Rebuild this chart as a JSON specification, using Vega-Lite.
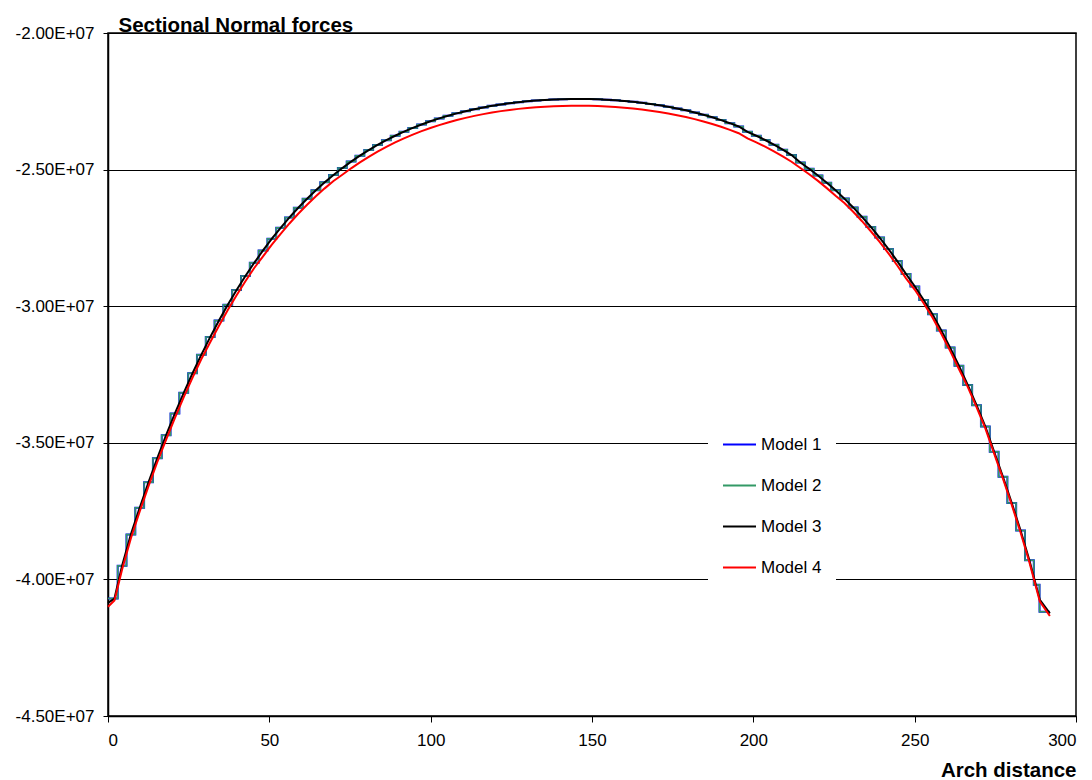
{
"$schema":"https://vega.github.io/schema/vega-lite/v6.json",
"width":968,"height":683,
"autosize":{"type":"none"},
"padding":{"left":108,"top":33,"right":16,"bottom":64},
"background":"white",
"config":{
"font":"Liberation Sans",
"view":{"stroke":"black","strokeWidth":1.5},
"axis":{"labelFont":"Liberation Sans","titleFont":"Liberation Sans","labelColor":"black","titleColor":"black","domainColor":"black","tickColor":"black","labelFontSize":17,"titleFontSize":20.5,"titleFontWeight":"bold"},
"legend":{"orient":"none","legendX":600,"legendY":380,"fillColor":"white","padding":14,"symbolType":"stroke","symbolSize":1089,"symbolStrokeWidth":2,"labelFontSize":17,"labelFont":"Liberation Sans","labelColor":"black","rowPadding":15,"labelOffset":4}
},
"datasets":{
"steps":[
{"x":0,"y":-4.07e7},{"x":3,"y":-3.95e7},{"x":5.73,"y":-3.8353e7},{"x":8.46,"y":-3.7376e7},{"x":11.19,"y":-3.6447e7},{"x":13.92,"y":-3.5563e7},{"x":16.65,"y":-3.4723e7},{"x":19.38,"y":-3.3926e7},{"x":22.11,"y":-3.317e7},{"x":24.84,"y":-3.2453e7},{"x":27.57,"y":-3.1774e7},{"x":30.3,"y":-3.1131e7},{"x":33.03,"y":-3.0523e7},{"x":35.76,"y":-2.9948e7},{"x":38.49,"y":-2.9406e7},{"x":41.22,"y":-2.8894e7},{"x":43.95,"y":-2.8412e7},{"x":46.68,"y":-2.7958e7},{"x":49.41,"y":-2.753e7},{"x":52.14,"y":-2.7129e7},{"x":54.87,"y":-2.6752e7},{"x":57.6,"y":-2.6398e7},{"x":60.33,"y":-2.6067e7},{"x":63.06,"y":-2.5757e7},{"x":65.79,"y":-2.5467e7},{"x":68.52,"y":-2.5196e7},{"x":71.25,"y":-2.4944e7},{"x":73.98,"y":-2.4708e7},{"x":76.71,"y":-2.449e7},{"x":79.44,"y":-2.4286e7},{"x":82.17,"y":-2.4098e7},{"x":84.9,"y":-2.3923e7},{"x":87.63,"y":-2.3761e7},{"x":90.36,"y":-2.3612e7},{"x":93.09,"y":-2.3474e7},{"x":95.82,"y":-2.3348e7},{"x":98.55,"y":-2.3232e7},{"x":101.28,"y":-2.3126e7},{"x":104.01,"y":-2.3029e7},{"x":106.74,"y":-2.2941e7},{"x":109.47,"y":-2.2861e7},{"x":112.2,"y":-2.2789e7},{"x":114.93,"y":-2.2724e7},{"x":117.66,"y":-2.2666e7},{"x":120.39,"y":-2.2615e7},{"x":123.12,"y":-2.2571e7},{"x":125.85,"y":-2.2532e7},{"x":128.58,"y":-2.25e7},{"x":131.31,"y":-2.2473e7},{"x":134.04,"y":-2.2451e7},{"x":136.77,"y":-2.2434e7},{"x":139.5,"y":-2.2423e7},{"x":142.23,"y":-2.2417e7},{"x":144.96,"y":-2.2416e7},{"x":147.69,"y":-2.242e7},{"x":150.42,"y":-2.2429e7},{"x":153.15,"y":-2.2444e7},{"x":155.88,"y":-2.2463e7},{"x":158.61,"y":-2.2488e7},{"x":161.34,"y":-2.2519e7},{"x":164.07,"y":-2.2555e7},{"x":166.8,"y":-2.2597e7},{"x":169.53,"y":-2.2645e7},{"x":172.26,"y":-2.27e7},{"x":174.99,"y":-2.2762e7},{"x":177.72,"y":-2.2831e7},{"x":180.45,"y":-2.2908e7},{"x":183.18,"y":-2.2993e7},{"x":185.91,"y":-2.3086e7},{"x":188.64,"y":-2.3189e7},{"x":191.37,"y":-2.3301e7},{"x":194.1,"y":-2.3423e7},{"x":196.83,"y":-2.3616e7},{"x":199.56,"y":-2.3761e7},{"x":202.29,"y":-2.3917e7},{"x":205.02,"y":-2.4087e7},{"x":207.75,"y":-2.427e7},{"x":210.48,"y":-2.4467e7},{"x":213.21,"y":-2.474e7},{"x":215.94,"y":-2.4969e7},{"x":218.67,"y":-2.5214e7},{"x":221.4,"y":-2.5478e7},{"x":224.13,"y":-2.576e7},{"x":226.86,"y":-2.6062e7},{"x":229.59,"y":-2.6385e7},{"x":232.32,"y":-2.6729e7},{"x":235.05,"y":-2.7097e7},{"x":237.78,"y":-2.7489e7},{"x":240.51,"y":-2.7906e7},{"x":243.24,"y":-2.8349e7},{"x":245.97,"y":-2.882e7},{"x":248.7,"y":-2.928e7},{"x":251.43,"y":-2.977e7},{"x":254.16,"y":-3.0292e7},{"x":256.89,"y":-3.0886e7},{"x":259.62,"y":-3.1515e7},{"x":262.35,"y":-3.218e7},{"x":265.08,"y":-3.2882e7},{"x":267.81,"y":-3.3622e7},{"x":270.54,"y":-3.4403e7},{"x":273.27,"y":-3.5326e7},{"x":276,"y":-3.6242e7},{"x":278.73,"y":-3.7203e7},{"x":281.46,"y":-3.8211e7},{"x":284.19,"y":-3.93e7},{"x":286.92,"y":-4.02e7},{"x":288.7,"y":-4.118e7},{"x":291.9,"y":-4.118e7}
],
"curves":[
{"x":0,"Model 3":-4.086e7,"Model 4":-4.1e7},
{"x":2,"Model 3":-4.07e7,"Model 4":-4.077e7},
{"x":4.365,"Model 3":-3.95e7,"Model 4":-3.964e7},
{"x":7.095,"Model 3":-3.8353e7,"Model 4":-3.8493e7},
{"x":9.825,"Model 3":-3.7376e7,"Model 4":-3.7516e7},
{"x":12.555,"Model 3":-3.6447e7,"Model 4":-3.6587e7},
{"x":15.285,"Model 3":-3.5563e7,"Model 4":-3.5703e7},
{"x":18.015,"Model 3":-3.4723e7,"Model 4":-3.4883e7},
{"x":20.745,"Model 3":-3.3926e7,"Model 4":-3.4086e7},
{"x":23.475,"Model 3":-3.317e7,"Model 4":-3.333e7},
{"x":26.205,"Model 3":-3.2453e7,"Model 4":-3.2613e7},
{"x":28.935,"Model 3":-3.1774e7,"Model 4":-3.1934e7},
{"x":31.665,"Model 3":-3.1131e7,"Model 4":-3.1321e7},
{"x":34.395,"Model 3":-3.0523e7,"Model 4":-3.0713e7},
{"x":37.125,"Model 3":-2.9948e7,"Model 4":-3.0138e7},
{"x":39.855,"Model 3":-2.9406e7,"Model 4":-2.9596e7},
{"x":42.585,"Model 3":-2.8894e7,"Model 4":-2.9084e7},
{"x":45.315,"Model 3":-2.8412e7,"Model 4":-2.8602e7},
{"x":48.045,"Model 3":-2.7958e7,"Model 4":-2.8178e7},
{"x":50.775,"Model 3":-2.753e7,"Model 4":-2.775e7},
{"x":53.505,"Model 3":-2.7129e7,"Model 4":-2.7349e7},
{"x":56.235,"Model 3":-2.6752e7,"Model 4":-2.6972e7},
{"x":58.965,"Model 3":-2.6398e7,"Model 4":-2.6618e7},
{"x":61.695,"Model 3":-2.6067e7,"Model 4":-2.6287e7},
{"x":64.425,"Model 3":-2.5757e7,"Model 4":-2.5977e7},
{"x":67.155,"Model 3":-2.5467e7,"Model 4":-2.5687e7},
{"x":69.885,"Model 3":-2.5196e7,"Model 4":-2.5416e7},
{"x":72.615,"Model 3":-2.4944e7,"Model 4":-2.5189e7},
{"x":75.345,"Model 3":-2.4708e7,"Model 4":-2.4953e7},
{"x":78.075,"Model 3":-2.449e7,"Model 4":-2.4735e7},
{"x":80.805,"Model 3":-2.4286e7,"Model 4":-2.4531e7},
{"x":83.535,"Model 3":-2.4098e7,"Model 4":-2.4343e7},
{"x":86.265,"Model 3":-2.3923e7,"Model 4":-2.4168e7},
{"x":88.995,"Model 3":-2.3761e7,"Model 4":-2.4006e7},
{"x":91.725,"Model 3":-2.3612e7,"Model 4":-2.3857e7},
{"x":94.455,"Model 3":-2.3474e7,"Model 4":-2.3719e7},
{"x":97.185,"Model 3":-2.3348e7,"Model 4":-2.3593e7},
{"x":99.915,"Model 3":-2.3232e7,"Model 4":-2.3477e7},
{"x":102.645,"Model 3":-2.3126e7,"Model 4":-2.3371e7},
{"x":105.375,"Model 3":-2.3029e7,"Model 4":-2.3274e7},
{"x":108.105,"Model 3":-2.2941e7,"Model 4":-2.3186e7},
{"x":110.835,"Model 3":-2.2861e7,"Model 4":-2.3106e7},
{"x":113.565,"Model 3":-2.2789e7,"Model 4":-2.3034e7},
{"x":116.295,"Model 3":-2.2724e7,"Model 4":-2.2969e7},
{"x":119.025,"Model 3":-2.2666e7,"Model 4":-2.2911e7},
{"x":121.755,"Model 3":-2.2615e7,"Model 4":-2.286e7},
{"x":124.485,"Model 3":-2.2571e7,"Model 4":-2.2816e7},
{"x":127.215,"Model 3":-2.2532e7,"Model 4":-2.2777e7},
{"x":129.945,"Model 3":-2.25e7,"Model 4":-2.2745e7},
{"x":132.675,"Model 3":-2.2473e7,"Model 4":-2.2718e7},
{"x":135.405,"Model 3":-2.2451e7,"Model 4":-2.2696e7},
{"x":138.135,"Model 3":-2.2434e7,"Model 4":-2.2679e7},
{"x":140.865,"Model 3":-2.2423e7,"Model 4":-2.2668e7},
{"x":143.595,"Model 3":-2.2417e7,"Model 4":-2.2662e7},
{"x":146.325,"Model 3":-2.2416e7,"Model 4":-2.2661e7},
{"x":149.055,"Model 3":-2.242e7,"Model 4":-2.2665e7},
{"x":151.785,"Model 3":-2.2429e7,"Model 4":-2.2674e7},
{"x":154.515,"Model 3":-2.2444e7,"Model 4":-2.2689e7},
{"x":157.245,"Model 3":-2.2463e7,"Model 4":-2.2708e7},
{"x":159.975,"Model 3":-2.2488e7,"Model 4":-2.2733e7},
{"x":162.705,"Model 3":-2.2519e7,"Model 4":-2.2764e7},
{"x":165.435,"Model 3":-2.2555e7,"Model 4":-2.28e7},
{"x":168.165,"Model 3":-2.2597e7,"Model 4":-2.2842e7},
{"x":170.895,"Model 3":-2.2645e7,"Model 4":-2.289e7},
{"x":173.625,"Model 3":-2.27e7,"Model 4":-2.2945e7},
{"x":176.355,"Model 3":-2.2762e7,"Model 4":-2.3007e7},
{"x":179.085,"Model 3":-2.2831e7,"Model 4":-2.3076e7},
{"x":181.815,"Model 3":-2.2908e7,"Model 4":-2.3153e7},
{"x":184.545,"Model 3":-2.2993e7,"Model 4":-2.3238e7},
{"x":187.275,"Model 3":-2.3086e7,"Model 4":-2.3331e7},
{"x":190.005,"Model 3":-2.3189e7,"Model 4":-2.3434e7},
{"x":192.735,"Model 3":-2.3301e7,"Model 4":-2.3546e7},
{"x":195.465,"Model 3":-2.3423e7,"Model 4":-2.3668e7},
{"x":198.195,"Model 3":-2.3616e7,"Model 4":-2.3861e7},
{"x":200.925,"Model 3":-2.3761e7,"Model 4":-2.4006e7},
{"x":203.655,"Model 3":-2.3917e7,"Model 4":-2.4162e7},
{"x":206.385,"Model 3":-2.4087e7,"Model 4":-2.4332e7},
{"x":209.115,"Model 3":-2.427e7,"Model 4":-2.4515e7},
{"x":211.845,"Model 3":-2.4467e7,"Model 4":-2.4712e7},
{"x":214.575,"Model 3":-2.474e7,"Model 4":-2.494e7},
{"x":217.305,"Model 3":-2.4969e7,"Model 4":-2.5169e7},
{"x":220.035,"Model 3":-2.5214e7,"Model 4":-2.5414e7},
{"x":222.765,"Model 3":-2.5478e7,"Model 4":-2.5678e7},
{"x":225.495,"Model 3":-2.576e7,"Model 4":-2.596e7},
{"x":228.225,"Model 3":-2.6062e7,"Model 4":-2.6222e7},
{"x":230.955,"Model 3":-2.6385e7,"Model 4":-2.6545e7},
{"x":233.685,"Model 3":-2.6729e7,"Model 4":-2.6889e7},
{"x":236.415,"Model 3":-2.7097e7,"Model 4":-2.7257e7},
{"x":239.145,"Model 3":-2.7489e7,"Model 4":-2.7649e7},
{"x":241.875,"Model 3":-2.7906e7,"Model 4":-2.8066e7},
{"x":244.605,"Model 3":-2.8349e7,"Model 4":-2.8509e7},
{"x":247.335,"Model 3":-2.882e7,"Model 4":-2.898e7},
{"x":250.065,"Model 3":-2.928e7,"Model 4":-2.94e7},
{"x":252.795,"Model 3":-2.977e7,"Model 4":-2.989e7},
{"x":255.525,"Model 3":-3.0292e7,"Model 4":-3.0412e7},
{"x":258.255,"Model 3":-3.0886e7,"Model 4":-3.1006e7},
{"x":260.985,"Model 3":-3.1515e7,"Model 4":-3.1635e7},
{"x":263.715,"Model 3":-3.218e7,"Model 4":-3.23e7},
{"x":266.445,"Model 3":-3.2882e7,"Model 4":-3.2952e7},
{"x":269.175,"Model 3":-3.3622e7,"Model 4":-3.3692e7},
{"x":271.905,"Model 3":-3.4403e7,"Model 4":-3.4473e7},
{"x":274.635,"Model 3":-3.5326e7,"Model 4":-3.5396e7},
{"x":277.365,"Model 3":-3.6242e7,"Model 4":-3.6312e7},
{"x":280.095,"Model 3":-3.7203e7,"Model 4":-3.7273e7},
{"x":282.825,"Model 3":-3.8211e7,"Model 4":-3.8281e7},
{"x":285.555,"Model 3":-3.93e7,"Model 4":-3.937e7},
{"x":288.8,"Model 3":-4.075e7,"Model 4":-4.081e7},
{"x":291.9,"Model 3":-4.124e7,"Model 4":-4.134e7}
]
},
"encoding":{
"x":{"field":"x","type":"quantitative","scale":{"domain":[0,300],"nice":false},
"axis":{"title":"Arch distance","values":[0,50,100,150,200,250,300],"grid":false,"tickSize":6,"labelPadding":10,"domainWidth":1.5,"titleAlign":"right","titleX":968,"titleY":60,"titleBaseline":"alphabetic"}},
"y":{"field":"y","type":"quantitative","scale":{"domain":[-45000000,-20000000],"nice":false,"zero":false},
"axis":{"title":"Sectional Normal forces","values":[-45000000,-40000000,-35000000,-30000000,-25000000,-20000000],"grid":true,"gridColor":"black","gridWidth":1,"tickSize":5,"labelPadding":9,"domainWidth":1.5,"labelExpr":"replace(replace(upper(format(datum.value,'.2e')),'E+','E+0'),'\u2212','-')","titleAngle":0,"titleAlign":"left","titleBaseline":"alphabetic","titleX":10,"titleY":-1.5}}
},
"layer":[
{"data":{"name":"steps"},"mark":{"type":"line","interpolate":"step-after","strokeWidth":2},
"encoding":{"color":{"datum":"Model 1","type":"nominal","title":null,"scale":{"domain":["Model 1","Model 2","Model 3","Model 4"],"range":["#0000FF","#339966","#000000","#FF0000"]}}}},
{"data":{"name":"steps"},"mark":{"type":"line","interpolate":"step-after","strokeWidth":1.5},
"encoding":{"color":{"datum":"Model 2","type":"nominal","title":null}}},
{"data":{"name":"curves"},"transform":[{"fold":["Model 3","Model 4"],"as":["series","y"]}],"mark":{"type":"line","strokeWidth":2},
"encoding":{"color":{"field":"series","type":"nominal","title":null}}}
]
}
